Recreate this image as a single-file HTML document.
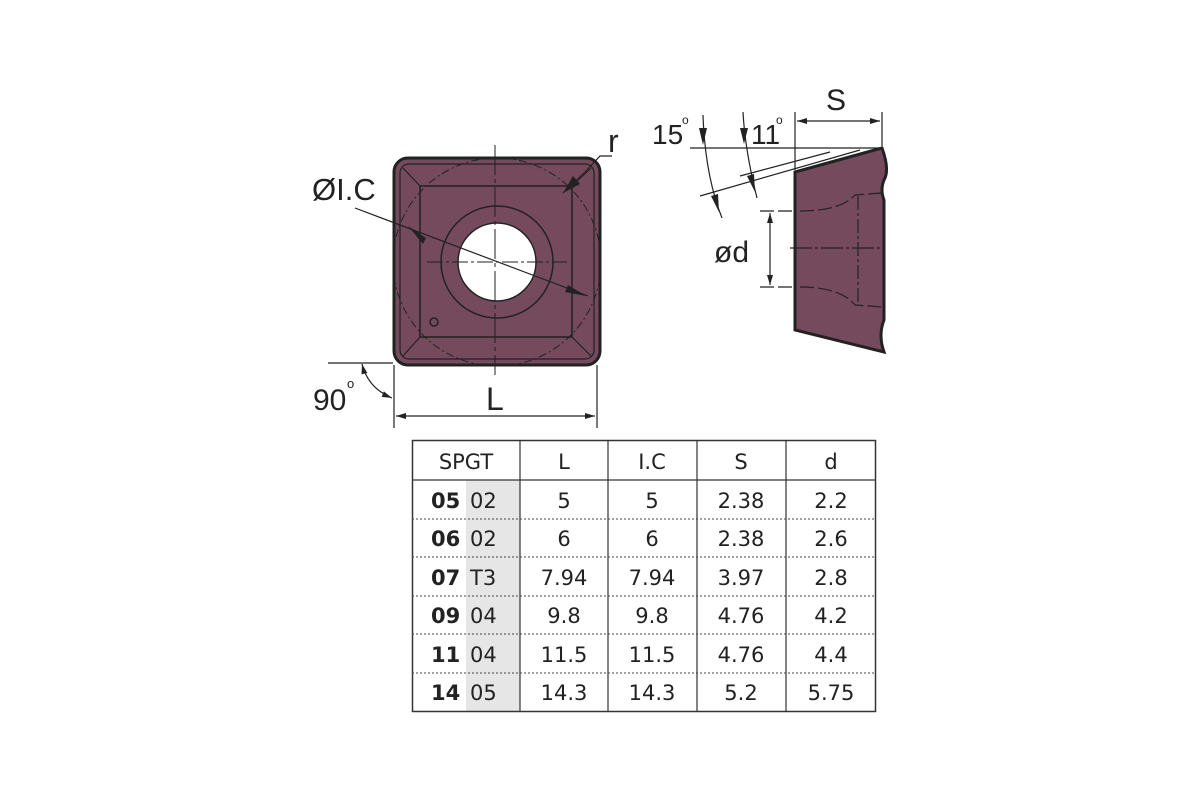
<!DOCTYPE html>
<html><head><meta charset="utf-8"><style>
html,body{margin:0;padding:0;background:#fff;}
svg{display:block;}
text{font-family:"Liberation Sans",sans-serif;fill:#222;}
.t{font-family:"DejaVu Sans","Liberation Sans",sans-serif;font-size:21px;fill:#222;}
</style></head><body>
<svg width="1200" height="800" viewBox="0 0 1200 800" xmlns="http://www.w3.org/2000/svg">
<defs>
<marker id="a" viewBox="0 0 10 6" refX="10" refY="3" markerWidth="12" markerHeight="6" orient="auto-start-reverse" markerUnits="userSpaceOnUse"><path d="M0,0 L10,3 L0,6z" fill="#222"/></marker>
</defs>
<rect x="394" y="158" width="206" height="207" rx="14" fill="#744a5c" stroke="#222" stroke-width="3"/>
<rect x="400" y="164" width="194" height="195" rx="9" fill="none" stroke="#222" stroke-width="1.2"/>
<rect x="420" y="186" width="152" height="151" fill="none" stroke="#222" stroke-width="1.5"/>
<line x1="420" y1="186" x2="403" y2="168" stroke="#222" stroke-width="1.2"/>
<line x1="572" y1="186" x2="591" y2="168" stroke="#222" stroke-width="1.2"/>
<line x1="420" y1="337" x2="403" y2="356" stroke="#222" stroke-width="1.2"/>
<line x1="572" y1="337" x2="591" y2="356" stroke="#222" stroke-width="1.2"/>
<circle cx="497" cy="262" r="104" fill="none" stroke="#222" stroke-width="1" stroke-dasharray="8,3,2,3"/>
<circle cx="497" cy="262" r="56" fill="none" stroke="#222" stroke-width="1.5"/>
<circle cx="497" cy="262" r="39" fill="#fff" stroke="#222" stroke-width="1.5"/>
<circle cx="434" cy="322" r="4" fill="none" stroke="#222" stroke-width="1.5"/>
<line x1="427" y1="262" x2="567" y2="262" stroke="#222" stroke-width="1" stroke-dasharray="16,3,3,3"/>
<line x1="495" y1="145" x2="495" y2="375" stroke="#222" stroke-width="1" stroke-dasharray="30,4,4,4"/>
<line x1="355" y1="208" x2="588" y2="296" stroke="#222" stroke-width="1.2"/>
<path d="M408,226 L426,238 L423,244z" fill="#222"/>
<path d="M586,296 L565,292 L568,285z" fill="#222"/>
<path d="M563,193 L585,172" stroke="#222" stroke-width="1.2"/>
<path d="M563,193 L573,176 L580,184z" fill="#222"/>
<polyline points="585,172 600,156 612,156" fill="none" stroke="#222" stroke-width="1.2"/>
<text x="608" y="152" font-size="32">r</text>
<text x="312" y="200" font-size="31">ØI.C</text>
<line x1="328" y1="363" x2="393" y2="363" stroke="#222" stroke-width="1.2"/>
<line x1="394" y1="365" x2="394" y2="428" stroke="#222" stroke-width="1.2"/>
<line x1="597" y1="365" x2="597" y2="428" stroke="#222" stroke-width="1.2"/>
<line x1="396" y1="416" x2="595" y2="416" stroke="#222" stroke-width="1.2" marker-start="url(#a)" marker-end="url(#a)"/>
<text x="486" y="410" font-size="32">L</text>
<path d="M362,364 Q368,388 392,398" fill="none" stroke="#222" stroke-width="1.2" marker-start="url(#a)" marker-end="url(#a)"/>
<text x="313" y="410" font-size="30">90</text>
<text x="347" y="388" font-size="13">o</text>
<path d="M795,172 L882,148 Q890,170 884,180 Q880,190 884,200 L884,320 Q878,335 884,352 L795,330 Z" fill="#744a5c" stroke="#222" stroke-width="3"/>
<line x1="690" y1="148" x2="882" y2="148" stroke="#222" stroke-width="1.2"/>
<line x1="700" y1="196" x2="860" y2="150" stroke="#222" stroke-width="1.2"/>
<line x1="740" y1="176" x2="830" y2="152" stroke="#222" stroke-width="1.2"/>
<line x1="795" y1="112" x2="795" y2="170" stroke="#222" stroke-width="1.2"/>
<line x1="882" y1="112" x2="882" y2="146" stroke="#222" stroke-width="1.2"/>
<line x1="797" y1="121" x2="880" y2="121" stroke="#222" stroke-width="1.2" marker-start="url(#a)" marker-end="url(#a)"/>
<text x="826" y="110" font-size="30">S</text>
<path d="M703,115 Q705,175 722,218" fill="none" stroke="#222" stroke-width="1.2"/>
<path d="M703,145 L699,128 L707,128z" fill="#222"/>
<path d="M719,212 L711,196 L718,194z" fill="#222"/>
<path d="M743,112 Q745,150 757,198" fill="none" stroke="#222" stroke-width="1.2"/>
<path d="M744,144 L740,128 L748,128z" fill="#222"/>
<path d="M755,192 L747,176 L754,174z" fill="#222"/>
<text x="652" y="144" font-size="28">15</text>
<text x="682" y="124" font-size="12">o</text>
<text x="751" y="144" font-size="28">11</text>
<text x="776" y="124" font-size="12">o</text>
<path d="M760,211 L795,211 M800,211 Q840,211 855,195 L882,193" fill="none" stroke="#222" stroke-width="1.2" stroke-dasharray="14,4"/>
<path d="M760,287 L795,287 M800,287 Q840,287 855,305 L882,307" fill="none" stroke="#222" stroke-width="1.2" stroke-dasharray="14,4"/>
<line x1="858" y1="196" x2="858" y2="305" stroke="#222" stroke-width="1.2" stroke-dasharray="14,3,3,3"/>
<line x1="790" y1="248" x2="884" y2="248" stroke="#222" stroke-width="1.2" stroke-dasharray="22,3,3,3"/>
<line x1="770" y1="213" x2="770" y2="285" stroke="#222" stroke-width="1.2" marker-start="url(#a)" marker-end="url(#a)"/>
<text x="714" y="262" font-size="30">ød</text>
<rect x="466" y="480" width="54" height="231" fill="#e6e6e6"/>
<rect x="412.5" y="440.5" width="463" height="271" fill="none" stroke="#333" stroke-width="1.5"/>
<line x1="412" y1="480" x2="876" y2="480" stroke="#333" stroke-width="1.2"/>
<g stroke="#333" stroke-width="1.2">
<line x1="520" y1="440" x2="520" y2="711"/><line x1="608" y1="440" x2="608" y2="711"/>
<line x1="697" y1="440" x2="697" y2="711"/><line x1="786" y1="440" x2="786" y2="711"/>
</g>
<g stroke="#444" stroke-width="1" stroke-dasharray="2,2">
<line x1="412" y1="519" x2="876" y2="519"/><line x1="412" y1="557" x2="876" y2="557"/>
<line x1="412" y1="596" x2="876" y2="596"/><line x1="412" y1="634" x2="876" y2="634"/>
<line x1="412" y1="673" x2="876" y2="673"/>
</g>
<g text-anchor="middle">
<text class="t" x="466" y="469">SPGT</text><text class="t" x="564" y="469">L</text><text class="t" x="652" y="469">I.C</text><text class="t" x="741" y="469">S</text><text class="t" x="831" y="469">d</text>
<text class="t" x="564" y="508">5</text><text class="t" x="652" y="508">5</text><text class="t" x="741" y="508">2.38</text><text class="t" x="831" y="508">2.2</text>
<text class="t" x="564" y="546">6</text><text class="t" x="652" y="546">6</text><text class="t" x="741" y="546">2.38</text><text class="t" x="831" y="546">2.6</text>
<text class="t" x="564" y="585">7.94</text><text class="t" x="652" y="585">7.94</text><text class="t" x="741" y="585">3.97</text><text class="t" x="831" y="585">2.8</text>
<text class="t" x="564" y="623">9.8</text><text class="t" x="652" y="623">9.8</text><text class="t" x="741" y="623">4.76</text><text class="t" x="831" y="623">4.2</text>
<text class="t" x="564" y="662">11.5</text><text class="t" x="652" y="662">11.5</text><text class="t" x="741" y="662">4.76</text><text class="t" x="831" y="662">4.4</text>
<text class="t" x="564" y="700">14.3</text><text class="t" x="652" y="700">14.3</text><text class="t" x="741" y="700">5.2</text><text class="t" x="831" y="700">5.75</text>
</g>
<g>
<text class="t" x="431" y="508" font-weight="bold">05</text><text class="t" x="470" y="508">02</text>
<text class="t" x="431" y="546" font-weight="bold">06</text><text class="t" x="470" y="546">02</text>
<text class="t" x="431" y="585" font-weight="bold">07</text><text class="t" x="470" y="585">T3</text>
<text class="t" x="431" y="623" font-weight="bold">09</text><text class="t" x="470" y="623">04</text>
<text class="t" x="431" y="662" font-weight="bold">11</text><text class="t" x="470" y="662">04</text>
<text class="t" x="431" y="700" font-weight="bold">14</text><text class="t" x="470" y="700">05</text>
</g>
</svg>
</body></html>
